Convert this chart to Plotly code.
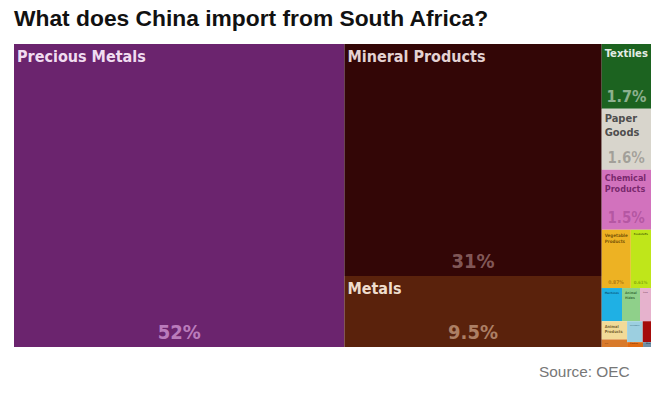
import plotly.graph_objects as go

# ---- data ----
ids = [
    "Precious Metals", "GroupA", "GroupB",
    "Mineral Products", "Metals",
    "Textiles", "Paper Goods", "Chemical Products",
    "Row1", "Row2", "Row3",
    "Vegetable Products", "Foodstuffs",
    "Machines", "Animal Hides", "Stone And Glass",
    "Col1", "Col2",
    "Animal Products", "Wood Products",
    "Col2Top", "Col2Bottom",
    "Instruments", "Transportation",
    "Plastics and Rubbers", "Miscellaneous",
]
parents = [
    "", "", "",
    "GroupA", "GroupA",
    "GroupB", "GroupB", "GroupB",
    "GroupB", "GroupB", "GroupB",
    "Row1", "Row1",
    "Row2", "Row2", "Row2",
    "Row3", "Row3",
    "Col1", "Col1",
    "Col2", "Col2",
    "Col2Top", "Col2Top",
    "Col2Bottom", "Col2Bottom",
]
values = [
    52.0, 0, 0,
    31.0, 9.5,
    1.66, 1.56, 1.54,
    0, 0, 0,
    0.88, 0.61,
    0.35, 0.31, 0.19,
    0, 0,
    0.24, 0.10,
    0, 0,
    0.17, 0.09,
    0.04, 0.02,
]
labels = [
    "Precious Metals", "", "",
    "Mineral Products", "Metals",
    "Textiles", "Paper<br>Goods", "Chemical<br>Products",
    "", "", "",
    "Vegetable<br>Products", "Foodstuffs",
    "Machines", "Animal<br>Hides", "Stone",
    "", "",
    "Animal<br>Products", "Wood",
    "", "",
    "Instruments", "Transport",
    "Plastics", "Misc",
]
pct_labels = [
    "52%", "", "",
    "31%", "9.5%",
    "1.7%", "1.6%", "1.5%",
    "", "", "",
    "0.87%", "0.61%",
    "", "", "",
    "", "",
    "", "",
    "", "",
    "", "",
    "", "",
]
colors = [
    "#6b246e", "rgba(0,0,0,0)", "rgba(0,0,0,0)",
    "#330606", "#5a220c",
    "#1c6320", "#d8d5cc", "#d272bd",
    "rgba(0,0,0,0)", "rgba(0,0,0,0)", "rgba(0,0,0,0)",
    "#edb223", "#bfe61a",
    "#1fb0e4", "#8fd08a", "#e6b2cd",
    "rgba(0,0,0,0)", "rgba(0,0,0,0)",
    "#f2da98", "#d87a2b",
    "rgba(0,0,0,0)", "rgba(0,0,0,0)",
    "#9ccfe0", "#a50b0b",
    "#e06a10", "#6f8fa5",
]
label_colors = [
    "rgba(255,240,255,0.92)", "white", "white",
    "rgba(255,240,240,0.88)", "rgba(255,240,225,0.92)",
    "rgba(255,255,255,0.9)", "rgba(60,60,60,0.9)", "rgba(110,30,100,0.9)",
    "white", "white", "white",
    "rgba(90,60,0,0.8)", "rgba(60,80,0,0.8)",
    "rgba(0,50,80,0.7)", "rgba(20,70,20,0.7)", "rgba(90,40,60,0.7)",
    "white", "white",
    "rgba(90,70,20,0.8)", "rgba(90,40,10,0.7)",
    "white", "white",
    "rgba(20,70,90,0.7)", "rgba(255,200,200,0.7)",
    "rgba(90,40,10,0.7)", "rgba(20,30,50,0.7)",
]
label_sizes = [16, 1, 1, 16, 16, 12, 11, 9, 1, 1, 1,
               5, 5, 4, 4, 4, 1, 1, 4, 3, 1, 1, 3, 3, 2, 2]
pct_colors = [
    "rgba(255,200,255,0.55)", "white", "white",
    "rgba(255,220,220,0.4)", "rgba(255,220,190,0.5)",
    "rgba(255,255,255,0.5)", "rgba(0,0,0,0.25)", "rgba(110,20,100,0.3)",
    "white", "white", "white",
    "rgba(120,70,0,0.5)", "rgba(80,110,0,0.5)",
    "white", "white", "white", "white", "white", "white", "white",
    "white", "white", "white", "white", "white", "white",
]
pct_sizes = [20, 1, 1, 20, 20, 16, 15, 15, 1, 1, 1,
             5, 5, 1, 1, 1, 1, 1, 1, 1, 1, 1, 1, 1, 1, 1]

FONT = "Liberation Sans Narrow, DejaVu Sans Condensed, Roboto, sans-serif"
domain = dict(x=[14 / 667, 651 / 667], y=[1 - 347 / 397, 1 - 44 / 397])
common = dict(
    ids=ids, parents=parents, values=values,
    branchvalues="remainder", sort=False,
    tiling=dict(packing="slice-dice", pad=0),
    pathbar=dict(visible=False),
    domain=domain, root=dict(color="rgba(0,0,0,0)"),
    hoverinfo="skip",
)

fig = go.Figure()
fig.add_trace(go.Treemap(
    **common,
    labels=ids,
    text=labels,
    texttemplate="%{text}",
    textposition="top left",
    textfont=dict(family=FONT, color=label_colors, size=label_sizes, weight="bold"),
    marker=dict(colors=colors, line=dict(width=0), pad=dict(t=0, l=0, r=0, b=0)),
))
fig.add_trace(go.Treemap(
    **common,
    labels=ids,
    text=pct_labels,
    texttemplate="%{text}",
    textposition="bottom center",
    textfont=dict(family=FONT, color=pct_colors, size=pct_sizes, weight="bold"),
    marker=dict(colors=["rgba(0,0,0,0)"] * len(ids), line=dict(width=0),
                pad=dict(t=0, l=0, r=0, b=0)),
))

fig.update_layout(
    width=667, height=397,
    margin=dict(l=0, r=0, t=0, b=0),
    paper_bgcolor="white",
    showlegend=False,
    title=dict(
        text="<b>What does China import from South Africa?</b>",
        x=14 / 667, xanchor="left", y=1 - 18 / 397, yanchor="middle",
        font=dict(family="Liberation Sans, Arial, sans-serif", size=22.8, color="#111111"),
    ),
    annotations=[dict(
        text="Source: OEC", xref="paper", yref="paper",
        x=632 / 667, y=1 - 371 / 397, xanchor="right", yanchor="middle",
        showarrow=False,
        font=dict(family="Liberation Sans, Arial, sans-serif", size=15.4, color="#777777"),
    )],
)

fig.write_html("out.html", config={"displayModeBar": False},
               post_script="document.body.style.margin='0';")
